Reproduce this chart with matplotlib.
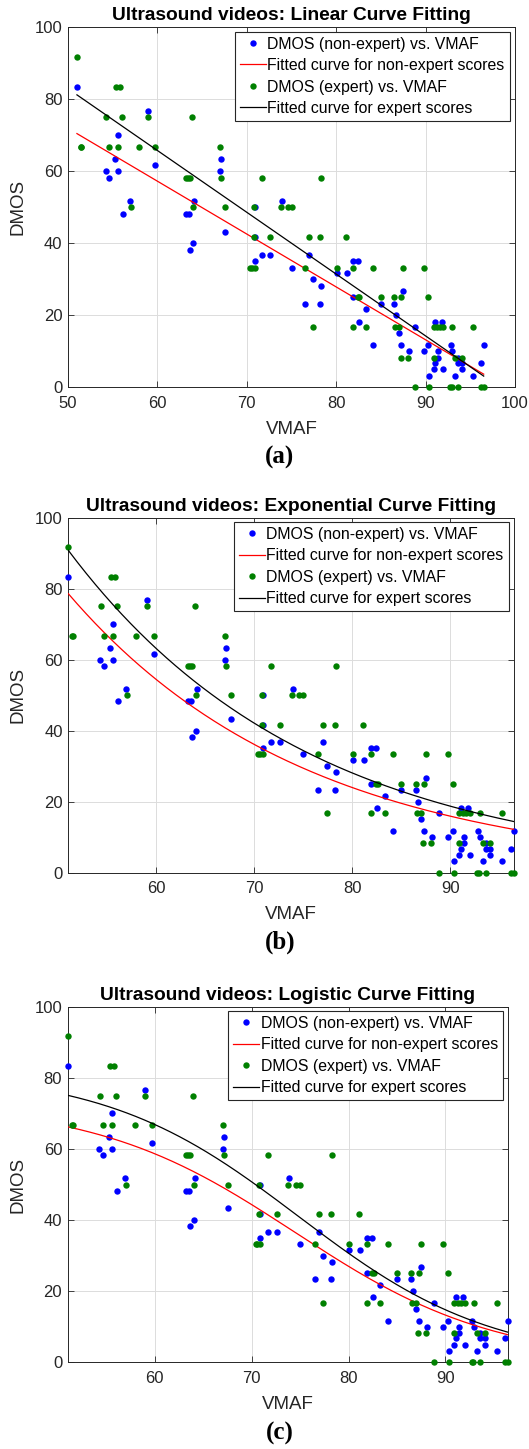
import numpy as np
import matplotlib
matplotlib.use('Agg')
import matplotlib.pyplot as plt

# DMOS of the non-expert group against VMAF (blue dots)
vmaf_ne = [51.0, 59.0, 55.6, 55.3, 67.1, 54.2, 55.6, 67.0, 54.6, 59.7,
           64.1, 56.9, 56.1, 63.2, 63.5, 67.6, 64.0, 63.6, 73.9, 70.9,
           70.9, 71.7, 72.6, 77.0, 70.9, 75.0, 77.4, 78.3, 76.5, 78.2,
           81.9, 82.4, 80.1, 81.2, 81.9, 83.3, 85.0, 82.5, 84.1, 87.5,
           86.5, 86.7, 88.8, 87.0, 91.1, 91.8, 87.3, 90.3, 92.8, 96.5,
           88.1, 89.8, 91.4, 93.0, 91.4, 93.6, 91.1, 93.6, 94.1, 96.2,
           90.9, 92.0, 94.1, 90.4, 93.3, 95.3]
dmos_ne = [83.3, 76.7, 70.0, 63.3, 63.3, 60.0, 60.0, 60.0, 58.3, 61.7,
           51.7, 51.7, 48.3, 48.3, 48.3, 43.3, 40.0, 38.3, 51.7, 50.0,
           41.7, 36.7, 36.7, 36.7, 35.0, 33.3, 30.0, 28.3, 23.3, 23.3,
           35.0, 35.0, 31.7, 31.7, 25.0, 21.7, 23.3, 18.3, 11.7, 26.7,
           23.3, 20.0, 16.7, 15.0, 18.3, 18.3, 11.7, 11.7, 11.7, 11.7,
           10.0, 10.0, 10.0, 10.0, 8.3, 8.3, 6.7, 6.7, 6.7, 6.7,
           5.0, 5.0, 5.0, 3.3, 3.3, 3.3]

# DMOS of the expert group against VMAF (green dots)
vmaf_ex = [51.0, 55.4, 55.8, 54.3, 56.0, 59.0, 63.9, 51.4, 51.5, 54.6,
           55.6, 57.9, 59.7, 67.0, 63.2, 63.4, 63.6, 67.1, 71.7, 78.3,
           57.0, 64.0, 67.6, 70.8, 73.8, 74.6, 75.0, 70.8, 72.6, 77.0,
           78.2, 81.1, 70.4, 70.6, 70.9, 76.5, 80.1, 81.9, 84.1, 87.5,
           89.8, 82.4, 82.6, 85.0, 86.5, 87.3, 90.3, 77.4, 81.9, 83.3,
           86.6, 87.0, 90.9, 91.3, 91.6, 92.0, 93.0, 95.3, 87.2, 88.0,
           90.9, 93.3, 94.1, 88.8, 90.4, 92.7, 92.9, 93.6, 96.2, 96.5]
dmos_ex = [91.7, 83.3, 83.3, 75.0, 75.0, 75.0, 75.0, 66.7, 66.7, 66.7,
           66.7, 66.7, 66.7, 66.7, 58.3, 58.3, 58.3, 58.3, 58.3, 58.3,
           50.0, 50.0, 50.0, 50.0, 50.0, 50.0, 50.0, 41.7, 41.7, 41.7,
           41.7, 41.7, 33.3, 33.3, 33.3, 33.3, 33.3, 33.3, 33.3, 33.3,
           33.3, 25.0, 25.0, 25.0, 25.0, 25.0, 25.0, 16.7, 16.7, 16.7,
           16.7, 16.7, 16.7, 16.7, 16.7, 16.7, 16.7, 16.7, 8.3, 8.3,
           8.3, 8.3, 8.3, 0.0, 0.0, 0.0, 0.0, 0.0, 0.0, 0.0]

# fitted curve parameters
lin_ne = (-1.468, 145.36)       # slope, intercept
lin_ex = (-1.716, 168.76)
exp_ne = (634.5, -0.04095)      # a*exp(b*x)
exp_ex = (715.3, -0.04047)
log_ne = (73.0, 0.097, 74.5)    # A/(1+exp(k*(x-c)))
log_ex = (82.0, 0.100, 74.85)

titles = ['Ultrasound videos: Linear Curve Fitting',
          'Ultrasound videos: Exponential Curve Fitting',
          'Ultrasound videos: Logistic Curve Fitting']
captions = ['(a)', '(b)', '(c)']

def linear(x, p):
    return p[0]*x + p[1]

def expo(x, p):
    return p[0]*np.exp(p[1]*x)

def logistic(x, p):
    return p[0]/(1 + np.exp(p[1]*(x - p[2])))

fits = [(linear, lin_ne, lin_ex), (expo, exp_ne, exp_ex), (logistic, log_ne, log_ex)]

W, H = 529, 1449
# axes boxes in pixels: left, top, right, bottom
boxes = [(68, 27.3, 515, 387.5),
         (68.3, 517.7, 514, 872.7),
         (67.7, 1006.7, 508.3, 1362.3)]
cap_y = [457, 942, 1433]

plt.rcParams['font.family'] = ['Liberation Sans', 'DejaVu Sans']
fig = plt.figure(figsize=(W/100, H/100), dpi=100)

xs_all = np.array(vmaf_ne + vmaf_ex)
xmin, xmax = xs_all.min(), xs_all.max()
xx = np.linspace(xmin, xmax, 300)
dark = '#262626'

for i in range(3):
    l, t, r, b = boxes[i]
    wpx, hpx = r - l, b - t
    ax = fig.add_axes([l/W, 1 - b/H, wpx/W, hpx/H])
    f, p_ne, p_ex = fits[i]
    ax.plot(vmaf_ne, dmos_ne, 'o', color='b', ms=4.6, mec='none',
            clip_on=False, zorder=3, label='DMOS (non-expert) vs. VMAF')
    ax.plot(xx, f(xx, p_ne), color='r', lw=0.9, zorder=3,
            label='Fitted curve for non-expert scores')
    ax.plot(vmaf_ex, dmos_ex, 'o', color='#008000', ms=4.6, mec='none',
            clip_on=False, zorder=3, label='DMOS (expert) vs. VMAF')
    ax.plot(xx, f(xx, p_ex), color='k', lw=0.9, zorder=3,
            label='Fitted curve for expert scores')
    if i == 0:
        ax.set_xlim(50, 100)
        ax.set_xticks([50, 60, 70, 80, 90, 100])
    else:
        ax.set_xlim(xmin, xmax)
        ax.set_xticks([60, 70, 80, 90])
    ax.set_ylim(0, 100)
    ax.set_yticks([0, 20, 40, 60, 80, 100])
    ax.grid(True, color='#dcdcdc', lw=0.7)
    ax.set_axisbelow(True)
    ax.tick_params(direction='in', length=4, width=0.6, top=True, right=True,
                   labelsize=12, colors=dark, labelcolor=dark)
    ax.tick_params(axis='x', pad=6)
    ax.tick_params(axis='y', pad=4)
    for s in ax.spines.values():
        s.set_color(dark)
        s.set_linewidth(0.7)
    ax.set_title(titles[i], fontsize=13.8, fontweight='bold', pad=5)
    ax.set_xlabel('VMAF', fontsize=13.5, color=dark, va='center')
    ax.xaxis.set_label_coords(0.5, -42/hpx)
    ax.set_ylabel('DMOS', fontsize=13.5, color=dark, va='center')
    ax.yaxis.set_label_coords(-50/wpx, 0.5)
    leg = ax.legend(loc='upper right',
                    bbox_to_anchor=(1 - 5.5/wpx, 1 - 4.5/hpx),
                    borderaxespad=0, fontsize=11.4, fancybox=False,
                    framealpha=1, edgecolor=dark, handlelength=1.65,
                    handletextpad=0.1, borderpad=0.3, labelspacing=0.41,
                    numpoints=1)
    leg.get_frame().set_linewidth(0.8)
    fig.text(280/W, 1 - cap_y[i]/H, captions[i], ha='center', va='center',
             fontsize=18, fontweight='bold', family='Liberation Serif')

fig.savefig('out.png', dpi=100)
